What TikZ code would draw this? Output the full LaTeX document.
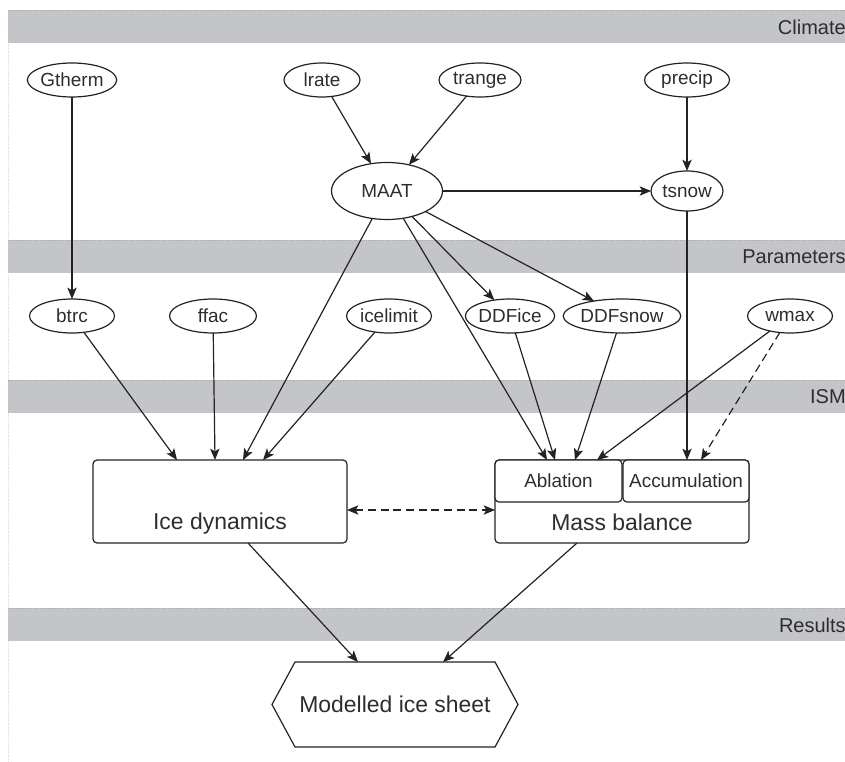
\documentclass[tikz,border=0pt]{standalone}
\usepackage{fontspec}
\setmainfont{Liberation Sans}
\usetikzlibrary{shapes.geometric,arrows.meta,calc}
\def\pxu{0.75pt}
\definecolor{bandgray}{RGB}{196,197,200}
\definecolor{bandedge}{RGB}{170,170,174}
\definecolor{ink}{RGB}{35,35,35}
\definecolor{txt}{RGB}{45,45,45}
\begin{document}
\begin{tikzpicture}[x=0.75pt,y=-0.75pt,
  every node/.style={text=txt},
  oval/.style={ellipse,draw=ink,line width=0.9pt,inner sep=0pt,outer sep=0pt,
    minimum height=34*\pxu,font=\fontsize{14.2}{16}\selectfont},
  bigbox/.style={draw=ink,line width=0.9pt,rounded corners=3pt,inner sep=0pt,outer sep=0pt},
  subbox/.style={draw=ink,line width=0.9pt,rounded corners=3pt,inner sep=0pt,outer sep=0pt,
    minimum height=42*\pxu,font=\fontsize{14.2}{16}\selectfont},
  biglabel/.style={font=\fontsize{17.2}{20}\selectfont,inner sep=0pt},
  bandlabel/.style={font=\fontsize{15}{18}\selectfont,anchor=east,inner sep=0pt},
  conn/.style={draw=ink,line width=0.9pt,-{Stealth[length=8.5pt,width=7pt,inset=2pt]}},
  dashconn/.style={conn,dash pattern=on 6pt off 3.5pt},
]
\useasboundingbox (0,0) rectangle (845,762);
% left border
\draw[bandedge!50,densely dotted,line width=0.6pt] (8,10) -- (8,762);
% bands
\foreach \yt in {10,240,380,608}{
  \fill[bandgray] (8,\yt) rectangle (846,\yt+33);
  \draw[bandedge,densely dotted,line width=0.6pt] (8,\yt) -- (846,\yt);
}
\node[bandlabel] (lclim) at (846,27) {Climate};
\node[bandlabel] (lpar) at (846,257) {Parameters};
\node[bandlabel] (lism) at (846,397) {ISM};
\node[bandlabel] (lres) at (846,625) {Results};

% climate nodes
\node[oval,minimum width=85*\pxu] (gtherm) at (72,80) {Gtherm};
\node[oval,minimum width=76*\pxu] (lrate) at (322,80) {lrate};
\node[oval,minimum width=82*\pxu] (trange) at (480,80) {trange};
\node[oval,minimum width=85*\pxu] (precip) at (687,80) {precip};
\node[oval,minimum width=111*\pxu,minimum height=57*\pxu] (maat) at (387,191) {MAAT};
\node[oval,minimum width=72*\pxu,minimum height=40*\pxu] (tsnow) at (687,191) {tsnow};

% parameter nodes
\node[oval,minimum width=85*\pxu] (btrc) at (72,316) {btrc};
\node[oval,minimum width=87*\pxu] (ffac) at (213,316) {ffac};
\node[oval,minimum width=85*\pxu] (icelimit) at (389,316) {icelimit};
\node[oval,minimum width=76*\pxu] (ddfice) at (510,316) {DDFice};
\node[oval,minimum width=97*\pxu] (ddfsnow) at (622,316) {DDFsnow};
\node[oval,minimum width=85*\pxu] (wmax) at (790,316) {wmax};

% ISM boxes
\node[bigbox,minimum width=254*\pxu,minimum height=83*\pxu] (idyn) at (220,501.5) {};
\node[biglabel] (idynlbl) at (220,524) {Ice dynamics};
\node[bigbox,minimum width=254*\pxu,minimum height=83*\pxu] (mb) at (622,501.5) {};
\node[biglabel] (mblbl) at (622,522) {Mass balance};
\node[subbox,minimum width=127*\pxu,fill=white] (abl) at (558.5,481) {Ablation};
\node[subbox,minimum width=126*\pxu,fill=white] (acc) at (686,481) {Accumulation};

% result
\node[biglabel,minimum width=246*\pxu,minimum height=85*\pxu,outer sep=0pt] (hex) at (395,704.5) {Modelled ice sheet};
\draw[ink,line width=0.9pt] (hex.west) -- ($(hex.north west)+(23,0)$) -- ($(hex.north east)+(-23,0)$)
  -- (hex.east) -- ($(hex.south east)+(-23,0)$) -- ($(hex.south west)+(23,0)$) -- cycle;

% connectors
\draw[conn] (gtherm) -- (btrc);
\draw[conn] (lrate) -- (maat);
\draw[conn] (trange) -- (maat);
\draw[conn] (precip) -- (tsnow);
\draw[conn] (maat) -- (tsnow);
\draw[conn] (maat) -- (ddfice);
\draw[conn] (maat) -- (ddfsnow);
\draw[conn] (maat) -- ($(idyn.north west)+(150,0)$);
\draw[conn] (maat) -- ($(abl.north west)+(52,0)$);
\draw[conn] (tsnow) -- (tsnow |- acc.north);
\draw[conn] (btrc) -- ($(idyn.north west)+(84,0)$);
\draw[conn] (ffac) -- ($(idyn.north west)+(122,0)$);
\draw[conn] (icelimit) -- ($(idyn.north west)+(170,0)$);
\draw[conn] (ddfice) -- ($(abl.north west)+(60,0)$);
\draw[conn] (ddfsnow) -- ($(abl.north west)+(80,0)$);
\draw[conn] (wmax) -- ($(abl.north west)+(102,0)$);
\draw[dashconn] (wmax) -- ($(acc.north west)+(78,0)$);
\draw[dashconn,{Stealth[length=8.5pt,width=7pt,inset=2pt]}-{Stealth[length=8.5pt,width=7pt,inset=2pt]}]
  ($(idyn.east)+(0,8.5)$) -- ($(mb.west)+(0,8.5)$);
\draw[conn] ($(idyn.south west)+(155,0)$) -- ($(hex.north west)+(86,0)$);
\draw[conn] ($(mb.south west)+(82,0)$) -- ($(hex.north west)+(171,0)$);
\end{tikzpicture}
\end{document}
